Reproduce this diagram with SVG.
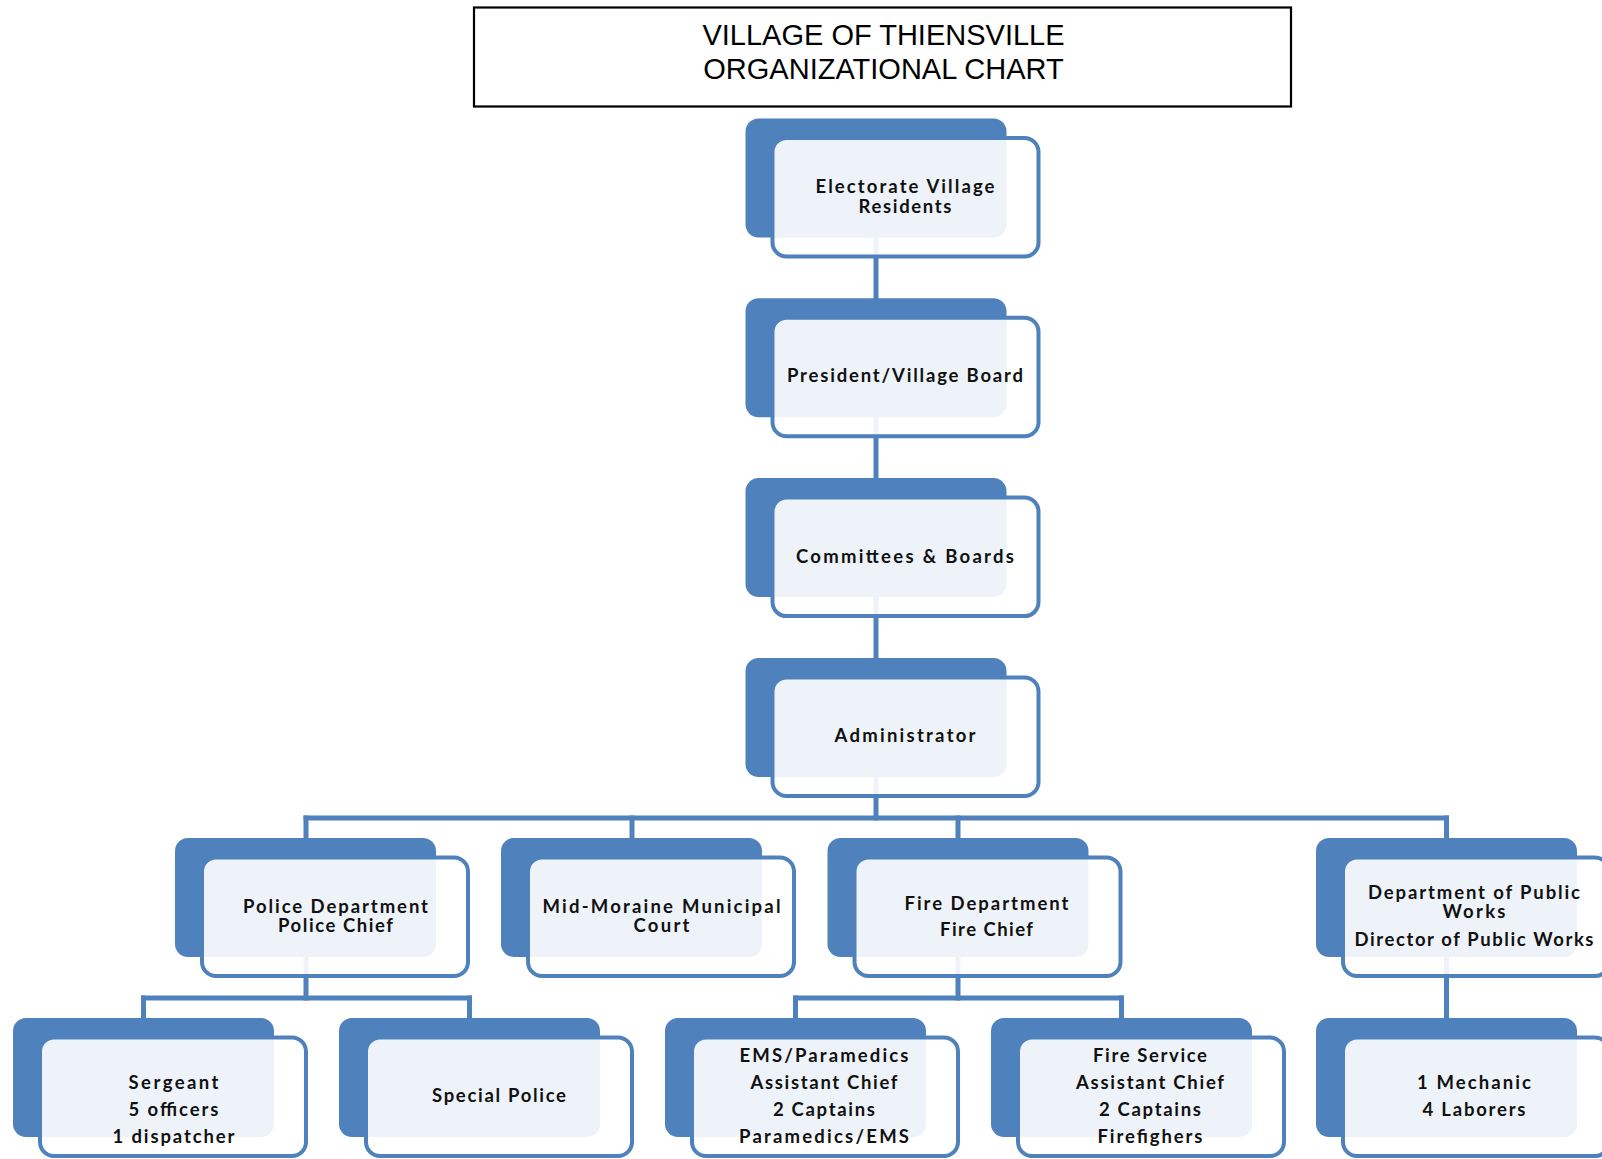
<svg xmlns="http://www.w3.org/2000/svg" width="1602" height="1159" viewBox="0 0 1602 1159">
<style>
.back{fill:#4F81BD;}
.front{fill:#ffffff;fill-opacity:0.9;stroke:#4F81BD;stroke-width:4;}
.lbl{font-family:Lato,"Open Sans","DejaVu Sans",sans-serif;font-size:18.5px;font-weight:700;fill:#111;text-anchor:middle;}
.conn{stroke:#4F81BD;stroke-width:5;fill:none;stroke-linecap:square;}
.title{font-family:"Liberation Sans",Arial,sans-serif;font-size:29px;fill:#000;text-anchor:middle;}
</style>
<rect width="1602" height="1159" fill="#ffffff"/>
<g id="title">
<rect x="474" y="7.5" width="817" height="99" fill="#ffffff" stroke="#000" stroke-width="2.2"/>
<text class="title" x="883.5" y="45">VILLAGE OF THIENSVILLE</text>
<text class="title" x="883.5" y="79">ORGANIZATIONAL CHART</text>
</g>
<g id="connectors">
<line class="conn" x1="876" y1="220" x2="876" y2="300"/>
<line class="conn" x1="876" y1="400" x2="876" y2="480"/>
<line class="conn" x1="876" y1="580" x2="876" y2="660"/>
<line class="conn" x1="876" y1="760" x2="876" y2="818"/>
<line class="conn" x1="306" y1="818" x2="1446.5" y2="818"/>
<line class="conn" x1="306" y1="818" x2="306" y2="840"/>
<line class="conn" x1="632" y1="818" x2="632" y2="840"/>
<line class="conn" x1="958" y1="818" x2="958" y2="840"/>
<line class="conn" x1="1446.5" y1="818" x2="1446.5" y2="840"/>
<line class="conn" x1="306" y1="940" x2="306" y2="998"/>
<line class="conn" x1="143.5" y1="998" x2="469.5" y2="998"/>
<line class="conn" x1="143.5" y1="998" x2="143.5" y2="1020"/>
<line class="conn" x1="469.5" y1="998" x2="469.5" y2="1020"/>
<line class="conn" x1="958" y1="940" x2="958" y2="998"/>
<line class="conn" x1="795.5" y1="998" x2="1121.5" y2="998"/>
<line class="conn" x1="795.5" y1="998" x2="795.5" y2="1020"/>
<line class="conn" x1="1121.5" y1="998" x2="1121.5" y2="1020"/>
<line class="conn" x1="1446.5" y1="940" x2="1446.5" y2="1020"/>
</g>
<g id="electorate">
<rect class="back" x="745.5" y="118.5" width="261" height="119" rx="13"/>
<rect class="front" x="772.5" y="138" width="266" height="118.5" rx="14"/>
<text class="lbl" x="905" y="193" textLength="179" lengthAdjust="spacing">Electorate Village</text>
<text class="lbl" x="905" y="213" textLength="93" lengthAdjust="spacing">Residents</text>
</g>
<g id="president">
<rect class="back" x="745.5" y="298.3" width="261" height="119" rx="13"/>
<rect class="front" x="772.5" y="317.8" width="266" height="118.5" rx="14"/>
<text class="lbl" x="905" y="382" textLength="236" lengthAdjust="spacing">President/Village Board</text>
</g>
<g id="committees">
<rect class="back" x="745.5" y="478.1" width="261" height="119" rx="13"/>
<rect class="front" x="772.5" y="497.6" width="266" height="118.5" rx="14"/>
<text class="lbl" x="905" y="563" textLength="218" lengthAdjust="spacing">Committees &amp; Boards</text>
</g>
<g id="administrator">
<rect class="back" x="745.5" y="658" width="261" height="119" rx="13"/>
<rect class="front" x="772.5" y="677.5" width="266" height="118.5" rx="14"/>
<text class="lbl" x="905" y="742" textLength="141" lengthAdjust="spacing">Administrator</text>
</g>
<g id="police">
<rect class="back" x="175" y="838" width="261" height="119" rx="13"/>
<rect class="front" x="202" y="857.5" width="266" height="118.5" rx="14"/>
<text class="lbl" x="335.5" y="912.5" textLength="185" lengthAdjust="spacing">Police Department</text>
<text class="lbl" x="335.5" y="932" textLength="115" lengthAdjust="spacing">Police Chief</text>
</g>
<g id="court">
<rect class="back" x="501" y="838" width="261" height="119" rx="13"/>
<rect class="front" x="528" y="857.5" width="266" height="118.5" rx="14"/>
<text class="lbl" x="661.5" y="912.5" textLength="238" lengthAdjust="spacing">Mid-Moraine Municipal</text>
<text class="lbl" x="661.5" y="932" textLength="56" lengthAdjust="spacing">Court</text>
</g>
<g id="fire">
<rect class="back" x="827.5" y="838" width="261" height="119" rx="13"/>
<rect class="front" x="854.5" y="857.5" width="266" height="118.5" rx="14"/>
<text class="lbl" x="986.5" y="910" textLength="164" lengthAdjust="spacing">Fire Department</text>
<text class="lbl" x="986.5" y="936" textLength="93" lengthAdjust="spacing">Fire Chief</text>
</g>
<g id="publicworks">
<rect class="back" x="1316" y="838" width="261" height="119" rx="13"/>
<rect class="front" x="1343" y="857.5" width="266" height="118.5" rx="14"/>
<text class="lbl" x="1474" y="899" textLength="212" lengthAdjust="spacing">Department of Public</text>
<text class="lbl" x="1474" y="918" textLength="63" lengthAdjust="spacing">Works</text>
<text class="lbl" x="1474" y="946" textLength="239" lengthAdjust="spacing">Director of Public Works</text>
</g>
<g id="sergeant">
<rect class="back" x="13" y="1018" width="261" height="119" rx="13"/>
<rect class="front" x="40" y="1037.5" width="266" height="118.5" rx="14"/>
<text class="lbl" x="173.5" y="1089" textLength="90" lengthAdjust="spacing">Sergeant</text>
<text class="lbl" x="173.5" y="1116" textLength="90" lengthAdjust="spacing">5 officers</text>
<text class="lbl" x="173.5" y="1143" textLength="122" lengthAdjust="spacing">1 dispatcher</text>
</g>
<g id="specialpolice">
<rect class="back" x="339" y="1018" width="261" height="119" rx="13"/>
<rect class="front" x="366" y="1037.5" width="266" height="118.5" rx="14"/>
<text class="lbl" x="499" y="1102" textLength="134" lengthAdjust="spacing">Special Police</text>
</g>
<g id="ems">
<rect class="back" x="665" y="1018" width="261" height="119" rx="13"/>
<rect class="front" x="692" y="1037.5" width="266" height="118.5" rx="14"/>
<text class="lbl" x="824" y="1062" textLength="169" lengthAdjust="spacing">EMS/Paramedics</text>
<text class="lbl" x="824" y="1089" textLength="147" lengthAdjust="spacing">Assistant Chief</text>
<text class="lbl" x="824" y="1116" textLength="102" lengthAdjust="spacing">2 Captains</text>
<text class="lbl" x="824" y="1143" textLength="170" lengthAdjust="spacing">Paramedics/EMS</text>
</g>
<g id="fireservice">
<rect class="back" x="991" y="1018" width="261" height="119" rx="13"/>
<rect class="front" x="1018" y="1037.5" width="266" height="118.5" rx="14"/>
<text class="lbl" x="1150" y="1062" textLength="114" lengthAdjust="spacing">Fire Service</text>
<text class="lbl" x="1150" y="1089" textLength="148" lengthAdjust="spacing">Assistant Chief</text>
<text class="lbl" x="1150" y="1116" textLength="102" lengthAdjust="spacing">2 Captains</text>
<text class="lbl" x="1150" y="1143" textLength="105" lengthAdjust="spacing">Firefighers</text>
</g>
<g id="mechanics">
<rect class="back" x="1316" y="1018" width="261" height="119" rx="13"/>
<rect class="front" x="1343" y="1037.5" width="266" height="118.5" rx="14"/>
<text class="lbl" x="1474" y="1089" textLength="114" lengthAdjust="spacing">1 Mechanic</text>
<text class="lbl" x="1474" y="1116" textLength="103" lengthAdjust="spacing">4 Laborers</text>
</g>
</svg>
